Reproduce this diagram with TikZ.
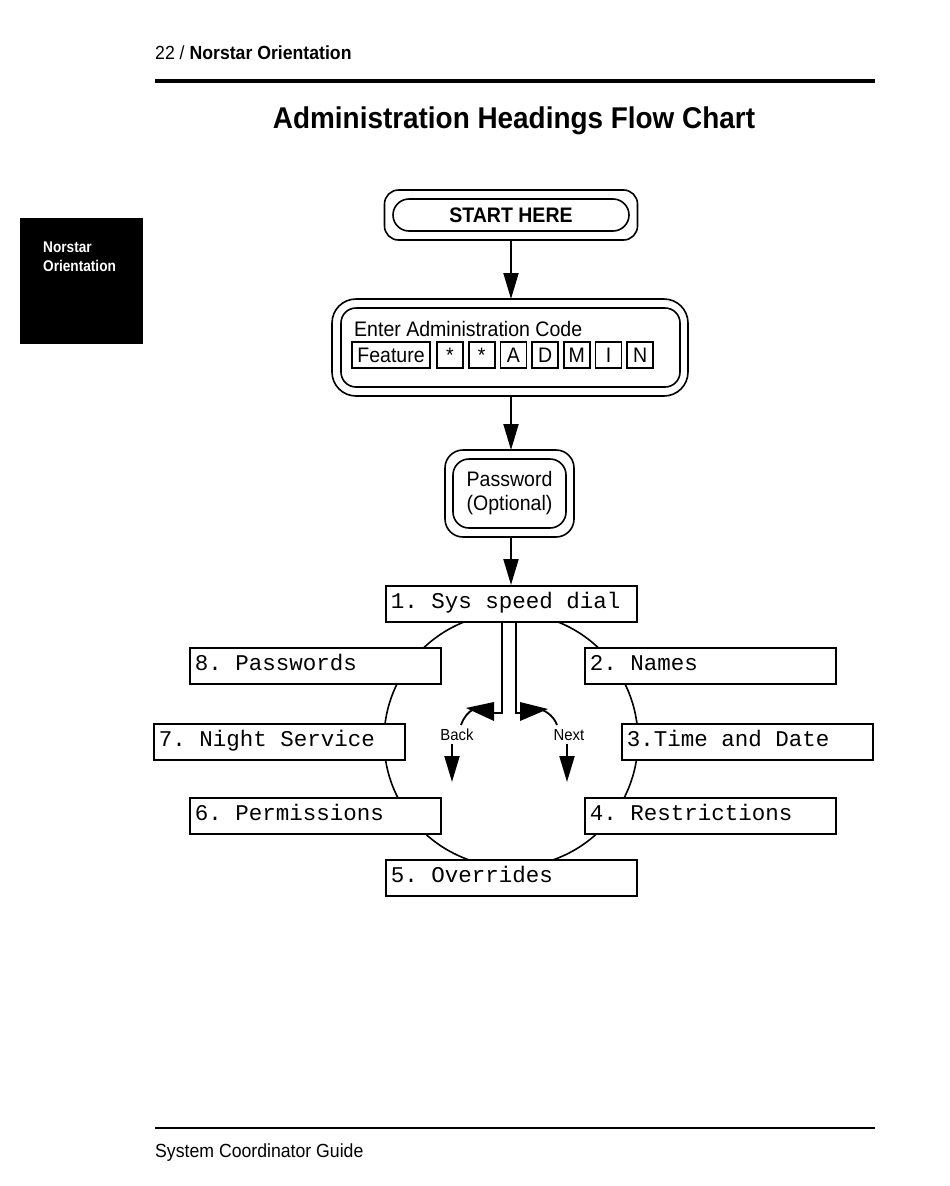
\documentclass[tikz,border=0pt]{standalone}
\usepackage{fontspec}
\setmainfont[FakeStretch=0.93]{Liberation Sans}
\newfontfamily\dotfont{Liberation Mono}
\newfontfamily\tabfont[FakeStretch=0.88]{Liberation Sans}
\newcommand\dotsel{\dotfont\fontsize{22.5}{24}\selectfont}
\newcommand\mtxt[1]{\makebox[241pt][l]{\strut #1}}
\usetikzlibrary{arrows.meta}
\frenchspacing
\begin{document}
\begin{tikzpicture}[x=1pt,y=-1pt,
  ln/.style={line width=1.6pt},
  arr/.style={line width=2pt,-{Triangle[width=15pt,length=26pt]}},
  mbox/.style={draw, line width=1.6pt, fill=white, minimum height=36pt,
    inner xsep=5pt, inner ysep=0pt, anchor=north west, font=\dotsel},
  rbox/.style={draw, line width=1.6pt, inner sep=0pt},
  key/.style={draw, line width=1.8pt, minimum height=26pt, inner sep=0pt,
    font=\fontsize{21}{24}\selectfont},
  lab/.style={inner sep=0pt, font=\fontsize{16}{18}\selectfont},
  tabtxt/.style={anchor=base west, inner sep=0pt, text=white, font=\tabfont\bfseries\fontsize{15.5}{19}\selectfont}
]
\useasboundingbox (0,0) rectangle (950,1186);
% header
\node[anchor=base west, inner sep=0pt, font=\fontsize{19}{22}\selectfont] (hdr) at (155,59) {22 / \textbf{Norstar Orientation}};
\draw[line width=4pt] (155,81) -- (875,81);
\node[anchor=base, inner sep=0pt, font=\bfseries\fontsize{30}{34}\selectfont] (title) at (514,128) {Administration Headings Flow Chart};
% side tab
\fill (20,218) rectangle (143,344);
\node[tabtxt] (tab1) at (43,252) {Norstar};
\node[tabtxt] (tab2) at (43,271) {Orientation};
% footer
\draw[line width=1.5pt] (155,1128) -- (875,1128);
\node[anchor=base west, inner sep=0pt, font=\fontsize{19}{22}\selectfont] (ftr) at (155,1157) {System Coordinator Guide};

% START HERE
\node[rbox, minimum width=253pt, minimum height=50pt, rounded corners=14pt] (start) at (511,215) {};
\node[rbox, minimum width=236pt, minimum height=32pt, rounded corners=16pt, font=\bfseries\fontsize{21}{24}\selectfont] (starttxt) at (start.center) {START HERE};

% Admin code
\node[rbox, minimum width=356pt, minimum height=97pt, rounded corners=24pt] (admin) at (510,347.5) {};
\node[rbox, minimum width=339pt, minimum height=79pt, rounded corners=15pt] (admininner) at (510.5,347.5) {};
\node[anchor=base west, inner sep=0pt, font=\fontsize{21}{24}\selectfont] (entertxt) at (354,336) {Enter Administration Code};
\node[key, minimum width=78pt] (kf) at (391,355) {Feature};
\foreach \t [count=\i from 0] in {*,*,A,D,M,I,N} {
  \node[key, minimum width=26pt] (k\i) at (450+31.7*\i,355) {\ifx\t*\raisebox{0pt}{\fontsize{15}{16}\selectfont *}\else\t\fi};
}

% Password
\node[rbox, minimum width=129pt, minimum height=87pt, rounded corners=18pt] (pw) at (509.5,493.5) {};
\node[rbox, minimum width=113pt, minimum height=69pt, rounded corners=16pt, align=center, font=\fontsize{21}{24}\selectfont] (pwtxt) at (pw.center) {Password\\(Optional)};

% circle
\coordinate (cc) at (511,740);
\draw[ln] (cc) circle (127pt);

% menu boxes
\node[mbox] (b1) at (385,585) {\mtxt{1. Sys speed dial}};
\node[mbox] (b8) at (189,647) {\mtxt{8. Passwords}};
\node[mbox] (b2) at (584,647) {\mtxt{2. Names}};
\node[mbox] (b7) at (153,723) {\mtxt{7. Night Service}};
\node[mbox] (b3) at (621,723) {\mtxt{3.Time and Date}};
\node[mbox] (b6) at (189,797) {\mtxt{6. Permissions}};
\node[mbox] (b4) at (584,797) {\mtxt{4. Restrictions}};
\node[mbox] (b5) at (385,859) {\mtxt{5. Overrides}};

% main arrows
\draw[arr] (511,240) -- (511,299);
\draw[arr] (511,396) -- (511,450);
\draw[arr] (511,537) -- (511,585);

% back / next
\coordinate (lc) at (502,713);
\coordinate (rc) at (516,713);
\draw[line width=1.8pt] (lc |- b1.south) -- (lc) -- (492,713);
\fill (494,702) -- (494,721) -- (466,708) -- cycle;
\draw[line width=1.8pt] (474,709) .. controls (468,712) and (464,717) .. (461,725);
\draw[line width=1.8pt] (rc |- b1.south) -- (rc) -- (522,713);
\fill (520,702) -- (520,721) -- (548,709) -- cycle;
\draw[line width=1.8pt] (540,709) .. controls (548,712) and (554,717) .. (557,725);
\node[lab] (back) at (457,735) {Back};
\node[lab] (next) at (569,735) {Next};
\coordinate (bt) at (452,782);
\coordinate (nt) at (567,782);
\draw[arr] (back.south -| bt) ++(0,3) -- (bt);
\draw[arr] (next.south -| nt) ++(0,3) -- (nt);
\end{tikzpicture}
\end{document}
